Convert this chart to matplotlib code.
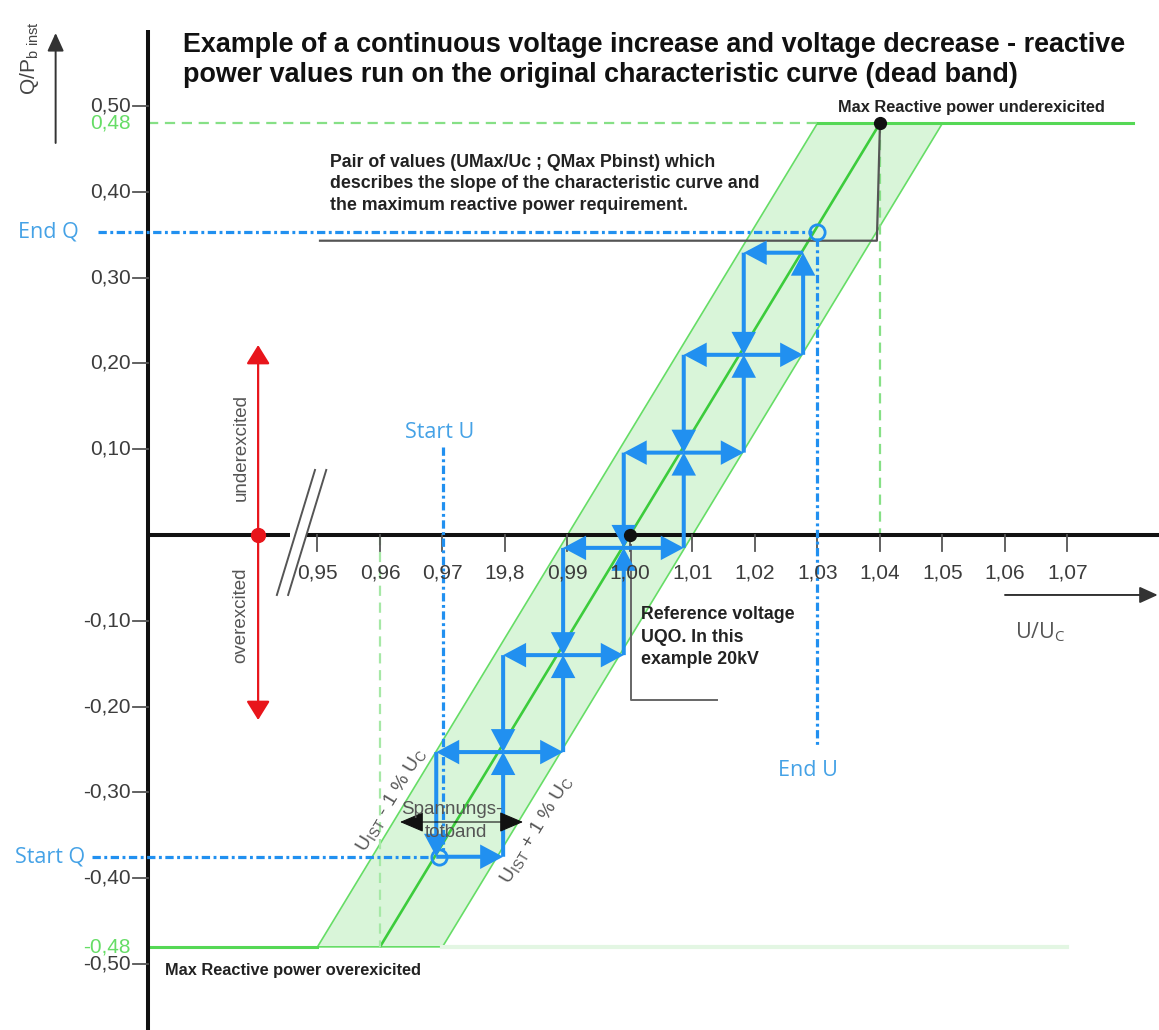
import matplotlib
matplotlib.use("Agg")
import matplotlib.pyplot as plt
from matplotlib.patches import Polygon, FancyArrowPatch

# ---------------- data ----------------
x_ticks = [0.95, 0.96, 0.97, 0.98, 0.99, 1.00, 1.01, 1.02, 1.03, 1.04, 1.05, 1.06, 1.07]
x_tick_labels = ["0,95", "0,96", "0,97", "19,8", "0,99", "1,00", "1,01", "1,02",
                 "1,03", "1,04", "1,05", "1,06", "1,07"]
y_ticks = [0.50, 0.40, 0.30, 0.20, 0.10, -0.10, -0.20, -0.30, -0.40, -0.50]
y_tick_labels = ["0,50", "0,40", "0,30", "0,20", "0,10", "-0,10", "-0,20",
                 "-0,30", "-0,40", "-0,50"]
q_limits = [0.48, -0.48]
q_limit_labels = ["0,48", "-0,48"]

u_ref = 1.00                 # reference voltage, Q = 0
u_curve = [0.96, 1.04]       # characteristic curve end points
q_curve = [-0.48, 0.48]
dead_band = 0.01             # +/- 1 % Uc
u_upper_end = 1.0805         # end of upper limit line
u_lower_end = 1.0699         # end of lower limit line

# staircase nodes on the characteristic (U/Uc, Q/Pb inst)
step_u = [0.969, 0.9797, 0.9893, 0.999, 1.0086, 1.0182, 1.0277]
step_q = [-0.375, -0.253, -0.140, -0.015, 0.096, 0.210, 0.329]

start_u, start_q = 0.9695, -0.375
end_u, end_q = 1.0300, 0.353
pair_q = 0.343               # level of the "pair of values" leader line
red_arrow_q = [-0.2156, 0.2214]

# ---------------- layout (axes spans the full figure) ----------------
XL = (0.8992, 1.08464)
YL = (-0.57692, 0.62354)
U_AX = 0.9229                # position of the drawn vertical axis

fig = plt.figure(figsize=(11.59, 10.30), dpi=100)
ax = fig.add_axes([0, 0, 1, 1])
ax.set_xlim(*XL)
ax.set_ylim(*YL)
ax.axis("off")

BLUE = "#2190f0"
BLUE_TXT = "#45a2e6"
GREEN_FILL = "#d9f5d9"
GREEN_EDGE = "#66dd66"
GREEN = "#3ccc3c"
GREEN_DASH = "#86e086"
GRAY_TXT = "#444444"

SANS = ["Liberation Sans", "DejaVu Sans"]
OPEN = ["Open Sans", "DejaVu Sans"]

# ---------------- green characteristic band ----------------
band = Polygon([(u_curve[0] - dead_band, q_curve[0]), (u_curve[0] + dead_band, q_curve[0]),
                (u_curve[1] + dead_band, q_curve[1]), (u_curve[1] - dead_band, q_curve[1])],
               closed=True, facecolor=GREEN_FILL, edgecolor=GREEN_EDGE, lw=1.2, zorder=1)
ax.add_patch(band)
ax.plot(u_curve, q_curve, color=GREEN, lw=1.9, zorder=2, solid_capstyle="butt")
# limit lines
ax.plot([u_curve[1] - dead_band, u_upper_end], [q_limits[0]] * 2, color="#55d855", lw=2.2, zorder=2)
ax.plot([U_AX, u_curve[0] - dead_band], [q_limits[1]] * 2, color="#55d855", lw=2.2, zorder=2)
ax.plot([u_curve[0] + dead_band, u_lower_end], [q_limits[1]] * 2, color="#e3f6e3", lw=3.0, zorder=2)
ax.plot([U_AX, u_curve[1] - dead_band], [q_limits[0]] * 2, color=GREEN_DASH, lw=1.6,
        linestyle=(0, (4.6, 3.0)), zorder=2)
ax.plot([u_curve[1]] * 2, [q_limits[0], 0], color=GREEN_DASH, lw=1.6,
        linestyle=(0, (4.6, 3.0)), zorder=2)
ax.plot([u_curve[0]] * 2, [0, q_limits[1]], color="#a6e8a6", lw=1.6,
        linestyle=(0, (4.6, 3.0)), zorder=2)

# ---------------- axes ----------------
ax.plot([U_AX, U_AX], [YL[0], 0.5886], color="#111111", lw=2.9, zorder=4, solid_capstyle="butt")
ax.plot([U_AX, 0.9456], [0, 0], color="#111111", lw=2.9, zorder=4, solid_capstyle="butt")
ax.plot([0.9483, XL[1]], [0, 0], color="#111111", lw=2.9, zorder=4, solid_capstyle="butt")
# axis break marks
for du in (0.0, 0.0018):
    ax.plot([0.9435 + du, 0.9496 + du], [-0.0699, 0.0758], color="#555555", lw=1.4, zorder=4)

for xt, lab in zip(x_ticks, x_tick_labels):
    ax.plot([xt, xt], [0, -0.019], color="#555555", lw=1.3, zorder=4)
    ax.text(xt, -0.0443, lab, ha="center", va="center", fontsize=15,
            color="#3c3c3c", family=SANS, zorder=6)
for yt, lab in zip(y_ticks, y_tick_labels):
    ax.plot([U_AX - 0.0024, U_AX], [yt, yt], color="#555555", lw=1.3, zorder=4)
    ax.text(0.92016, yt, lab, ha="right", va="center", fontsize=15,
            color="#3c3c3c", family=SANS, zorder=6)
for yq, lab in zip(q_limits, q_limit_labels):
    ax.text(0.92016, yq, lab, ha="right", va="center", fontsize=15,
            color="#66dd66", family=SANS, zorder=6)

# y axis label with arrow
ax.add_patch(FancyArrowPatch((0.9081, 0.4569), (0.9081, 0.5851),
                             arrowstyle="-|>,head_length=0.55,head_width=0.25",
                             mutation_scale=20, color="#333333", lw=1.4,
                             shrinkA=0, shrinkB=0, zorder=4))
ax.text(0.9040, 0.556, r"Q/P$_{\mathregular{b\ inst}}$", rotation=90, ha="center", va="center",
        fontsize=15, color=GRAY_TXT, family=SANS)

# x axis label with arrow
ax.add_patch(FancyArrowPatch((1.0600, -0.0699), (XL[1] - 0.0002, -0.0699),
                             arrowstyle="-|>,head_length=0.55,head_width=0.25",
                             mutation_scale=20, color="#333333", lw=1.4,
                             shrinkA=0, shrinkB=0, zorder=4))
ax.text(1.0656, -0.1130, r"U/U$_{\mathregular{C}}$", ha="center", va="center",
        fontsize=15.5, color="#555555", family=OPEN)

# ---------------- title ----------------
ax.text(0.92848, 0.5710, "Example of a continuous voltage increase and voltage decrease - reactive",
        ha="left", va="center", fontsize=19.4, fontweight="bold", color="#111111", family=SANS)
ax.text(0.92848, 0.5360, "power values run on the original characteristic curve (dead band)",
        ha="left", va="center", fontsize=19.4, fontweight="bold", color="#111111", family=SANS)

# ---------------- blue dash-dot guide lines ----------------
dd = (0, (2.6, 1.1, 0.9, 1.1))
ax.plot([0.91488, 1.0291], [end_q, end_q], color=BLUE, lw=2.3, linestyle=dd, zorder=4)
ax.plot([0.9139, 0.968], [start_q, start_q], color=BLUE, lw=2.3, linestyle=dd, zorder=4)
ax.plot([0.97008, 0.97008], [0.1026, -0.367], color=BLUE, lw=2.3, linestyle=dd, zorder=4)
ax.plot([end_u, end_u], [0.346, -0.2448], color=BLUE, lw=2.3, linestyle=dd, zorder=4)

ax.text(0.9118, end_q, "End Q", ha="right", va="center", fontsize=15.5, color=BLUE_TXT, family=OPEN)
ax.text(0.9128, start_q, "Start Q", ha="right", va="center", fontsize=15.5, color=BLUE_TXT, family=OPEN)
ax.text(0.9696, 0.120, "Start U", ha="center", va="center", fontsize=15.5, color=BLUE_TXT, family=OPEN)
ax.text(1.02848, -0.2739, "End U", ha="center", va="center", fontsize=15.5, color=BLUE_TXT, family=OPEN)

# ---------------- blue staircase (hysteresis loops) ----------------
def barrow(p0, p1):
    ax.add_patch(FancyArrowPatch(p0, p1, arrowstyle="-|>,head_length=0.6,head_width=0.32",
                                 mutation_scale=20, color=BLUE, lw=2.9,
                                 shrinkA=0, shrinkB=0, zorder=5, joinstyle="miter",
                                 capstyle="butt"))

for k in range(len(step_u) - 1):
    u0, u1 = step_u[k], step_u[k + 1]
    q0, q1 = step_q[k], step_q[k + 1]
    barrow((u0, q0), (u1, q0))   # increase of U -> right
    barrow((u1, q0), (u1, q1))   # Q follows -> up
    barrow((u1, q1), (u0, q1))   # decrease of U -> left
    barrow((u0, q1), (u0, q0))   # Q follows -> down

ax.plot([start_u], [start_q], "o", ms=11, mfc="none", mec=BLUE, mew=2.0, zorder=6)
ax.plot([end_u], [end_q], "o", ms=11, mfc="none", mec=BLUE, mew=2.0, zorder=6)

# ---------------- black annotations ----------------
ax.plot([u_curve[1]], [q_curve[1]], "o", ms=8.5, color="#111111", zorder=6)
ax.plot([u_ref], [0], "o", ms=8.5, color="#111111", zorder=6)
ax.plot([u_curve[1], 1.0395, 0.9504], [q_curve[1], pair_q, pair_q], color="#555555", lw=1.6, zorder=3)
ax.plot([1.0002, 1.0002, 1.0139], [-0.012, -0.1923, -0.1923], color="#666666", lw=1.4, zorder=3)

ax.text(1.03328, 0.4977, "Max Reactive power underexicited", ha="left", va="center",
        fontsize=11.8, fontweight="bold", color="#222222", family=SANS)
ax.text(0.9256, -0.5070, "Max Reactive power overexicited", ha="left", va="center",
        fontsize=11.8, fontweight="bold", color="#222222", family=SANS)
pair_lines = ["Pair of values (UMax/Uc ; QMax Pbinst) which",
              "describes the slope of the characteristic curve and",
              "the maximum reactive power requirement."]
for i, line in enumerate(pair_lines):
    ax.text(0.9520, 0.4347 - i * 0.0252, line, ha="left", va="center",
            fontsize=12.8, fontweight="bold", color="#222222", family=SANS)
ref_lines = ["Reference voltage", "UQO. In this", "example 20kV"]
for i, line in enumerate(ref_lines):
    ax.text(1.00176, -0.0932 - i * 0.0257, line, ha="left", va="center",
            fontsize=12.8, fontweight="bold", color="#222222", family=SANS)

# ---------------- red under/over-excited arrow ----------------
ax.add_patch(FancyArrowPatch((0.9405, red_arrow_q[0]), (0.9405, red_arrow_q[1]),
                             arrowstyle="<|-|>,head_length=0.58,head_width=0.36",
                             mutation_scale=20, color="#e8151b", lw=1.6,
                             shrinkA=0, shrinkB=0, zorder=5))
ax.plot([0.9405], [0], "o", ms=10, color="#e8151b", zorder=6)
ax.text(0.93776, 0.1014, "underexcited", rotation=90, ha="center", va="center",
        fontsize=13.5, color="#555555", family=SANS)
ax.text(0.93776, -0.0932, "overexcited", rotation=90, ha="center", va="center",
        fontsize=13.5, color="#555555", family=SANS)

# ---------------- dead band labels ----------------
ax.text(0.96192, -0.3089, r"U$_{\mathregular{IST}}$ - 1 % U$_{\mathregular{C}}$", rotation=58.8,
        ha="center", va="center", fontsize=14, color="#555555", family=SANS, zorder=6)
ax.text(0.98512, -0.3438, r"U$_{\mathregular{IST}}$ + 1 % U$_{\mathregular{C}}$", rotation=58.8,
        ha="center", va="center", fontsize=14, color="#555555", family=SANS, zorder=6)
ax.add_patch(FancyArrowPatch((0.9632, -0.3345), (0.98288, -0.3345),
                             arrowstyle="<|-|>,head_length=0.75,head_width=0.32",
                             mutation_scale=20, color="#111111", lw=0.8,
                             shrinkA=0, shrinkB=0, zorder=6))
ax.text(0.97152, -0.3205, "Spannungs-", ha="center", va="center", fontsize=13.5,
        color="#555555", family=SANS, zorder=6)
ax.text(0.97216, -0.3462, "totband", ha="center", va="center", fontsize=13.5,
        color="#555555", family=SANS, zorder=6)

fig.savefig("out.png", dpi=100, facecolor="white")
